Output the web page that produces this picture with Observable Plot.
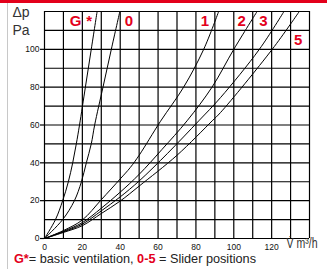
<!DOCTYPE html>
<html>
<head>
<meta charset="utf-8">
<script src="https://cdn.jsdelivr.net/npm/d3@7"></script>
<script src="https://cdn.jsdelivr.net/npm/@observablehq/plot@0.6"></script>
<style>
  html, body { margin: 0; padding: 0; background: #fff; }
  #wrap { position: relative; width: 327px; height: 269px; overflow: hidden; background: #fff; }
  #band { position: absolute; left: 0; top: 0; width: 327px; height: 3px; background: #e3001b; }
  #edge { position: absolute; left: 7px; top: 3px; width: 1px; bottom: 0; background: #c8c8c8; }
  #chart { position: absolute; left: 0; top: 0; }
  #caption { position: absolute; left: 14px; top: 251px; font-family: "Liberation Sans", Arial, sans-serif; font-size: 13px; color: #222; white-space: nowrap; line-height: 15px; transform-origin: 0 0; }
  #caption b { color: #e3001b; }
</style>
</head>
<body>
<div id="wrap">
  <div id="band"></div>
  <div id="edge"></div>
  <div id="chart"></div>
  <div id="caption"><b>G*</b>= basic ventilation, <b>0-5</b> = Slider positions</div>
</div>
<script>
// Axis ticks and grid
const xTicks = [0, 20, 40, 60, 80, 100, 120];
const yTicks = [0, 20, 40, 60, 80, 100];
const xGrid = [0, 10, 20, 30, 40, 50, 60, 70, 80, 90, 100, 110, 120, 130, 140];
const yGrid = [0, 10, 20, 30, 40, 50, 60, 70, 80, 90, 100, 110, 120];

// Curves: flow V (m³/h) and pressure Δp (Pa)
const gV  = [0, 5.8, 9.6, 12.6, 14.9, 16.8, 18.5, 21.6, 24.7, 27.8];
const gDp = [0, 10, 20, 30, 40, 50, 60, 80, 100, 120];
const s0V  = [0, 9.6, 15.8, 19.5, 22.1, 24.7, 26.5, 30.9, 35.3, 39.8];
const s0Dp = [0, 10, 20, 30, 40, 50, 60, 80, 100, 120];
const s1V  = [0, 10, 20, 30, 40, 45.3, 50, 61.3, 73.5, 84.1, 92];
const s1Dp = [0, 4.2, 9.8, 20.5, 31.5, 37.5, 44, 62, 80, 100, 120];
const s2V  = [0, 10, 20, 30, 40, 50, 62, 75.3, 88.5, 100, 112.3];
const s2Dp = [0, 3.8, 8.4, 16, 24.5, 33.9, 47, 62.2, 80, 100, 120];
const s3V  = [0, 10, 20, 30, 40, 50, 65, 81.5, 93, 113.5, 126.5];
const s3Dp = [0, 3.5, 7.6, 14.6, 22, 30.4, 45, 62.2, 74.5, 100, 120];
const s5V  = [0, 10, 20, 30, 40, 50, 70, 88.6, 93, 120.3, 134.6];
const s5Dp = [0, 3.2, 6.8, 13.2, 19.8, 27.7, 44, 62.2, 66.6, 100, 120];

// Curve labels
const labelText = ["G", "*", "0", "1", "2", "3", "5"];
const labelV    = [16.4, 23.6, 44.6, 84.8, 104.2, 115.7, 134];
const labelDp   = [114.8, 114.8, 114.8, 114.8, 114.8, 114.8, 104.7];

const series = [[gV, gDp], [s0V, s0Dp], [s1V, s1Dp], [s2V, s2Dp], [s3V, s3Dp], [s5V, s5Dp]];
const red = "#e3001b";
const font = "'Liberation Sans', Arial, Helvetica, sans-serif";

const lines = series.map(([vs, ps]) =>
  Plot.line(vs.map((v, i) => ({v, p: ps[i]})), {x: "v", y: "p", curve: "catmull-rom", stroke: "#000", strokeWidth: 1})
);
const labels = labelText.map((t, i) => ({t, v: labelV[i], p: labelDp[i]}));

const chart = Plot.plot({
  width: 327,
  height: 251,
  marginLeft: 44,
  marginRight: 18,
  marginTop: 11,
  marginBottom: 13,
  style: {fontFamily: font, fontSize: "8.5px", color: "#111", background: "transparent", overflow: "visible"},
  x: {domain: [0, 140], label: null},
  y: {domain: [0, 120], label: null},
  marks: [
    Plot.ruleX(xGrid, {stroke: "#000", strokeWidth: 1.2}),
    Plot.ruleY(yGrid, {stroke: "#000", strokeWidth: 1.2}),
    ...lines,
    Plot.axisY(yTicks, {tickSize: 4, tickPadding: 1, stroke: "#000", strokeWidth: 1.2, fill: "#111", fontSize: 8.5, label: null}),
    Plot.axisX(xTicks, {tickSize: 0, tickPadding: 5, fill: "#111", fontSize: 8.5, label: null}),
    Plot.text(labels, {x: "v", y: "p", text: "t", fill: red, fontWeight: "bold", fontSize: 15, lineAnchor: "middle", fontFamily: font}),
    Plot.text(["Δp"], {frameAnchor: "top-left", textAnchor: "start", lineAnchor: "top", dx: -32, dy: -4.5, fontSize: 14, fill: "#333", fontFamily: font}),
    Plot.text(["Pa"], {frameAnchor: "top-left", textAnchor: "start", lineAnchor: "top", dx: -32, dy: 14, fontSize: 14, fill: "#333", fontFamily: font}),
    Plot.text(["V\u0307 m³/h"], {frameAnchor: "bottom-right", textAnchor: "end", lineAnchor: "top", dx: 8, dy: 0, fontSize: 14, fill: "#333", fontFamily: font, className: "vlabel"})
  ]
});
document.getElementById("chart").appendChild(chart);

// condense the flow-unit label and the caption like the reference's narrow type
d3.select(chart).selectAll(".vlabel text").attr("textLength", 31).attr("lengthAdjust", "spacingAndGlyphs");
const cap = document.getElementById("caption");
const w = cap.getBoundingClientRect().width;
cap.style.transform = `scaleX(${242 / w})`;
</script>
</body>
</html>
